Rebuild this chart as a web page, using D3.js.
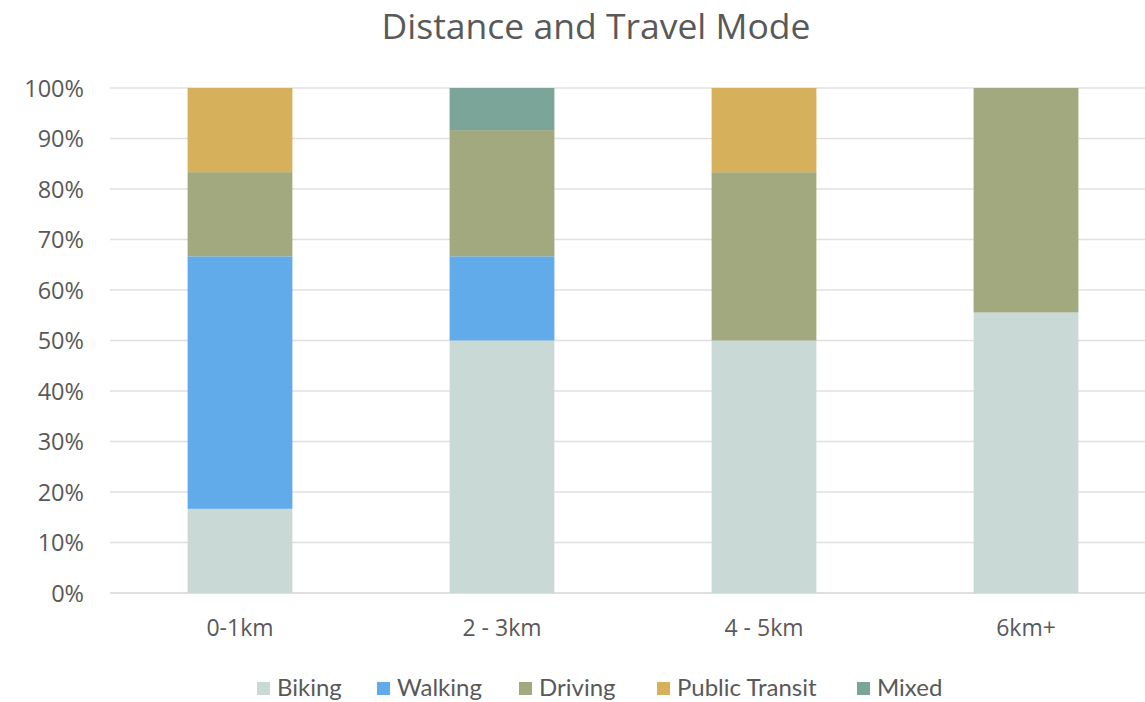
<!DOCTYPE html>
<html>
<head>
<meta charset="utf-8">
<script src="https://cdn.jsdelivr.net/npm/d3@7"></script>
<style>
  html, body { margin: 0; padding: 0; background: #fff; }
  svg { display: block; }
</style>
</head>
<body>
<svg id="chart" width="1145" height="702"></svg>
<script>
// Distance bands and share of trips by travel mode (percent)
const categories = ["0-1km", "2 - 3km", "4 - 5km", "6km+"];
const modes = ["Biking", "Walking", "Driving", "Public Transit", "Mixed"];
const biking = [16.67, 50, 50, 55.56];
const walking = [50, 16.67, 0, 0];
const driving = [16.67, 25, 33.33, 44.44];
const publicTransit = [16.66, 0, 16.67, 0];
const mixed = [0, 8.33, 0, 0];
const yTicks = [0, 10, 20, 30, 40, 50, 60, 70, 80, 90, 100];
const colors = ["#c9dad6", "#62abeb", "#a2a97f", "#d7b05c", "#7aa598"];

const seriesValues = [biking, walking, driving, publicTransit, mixed];
const rows = categories.map((c, i) => {
  const r = { category: c };
  modes.forEach((m, j) => { r[m] = seriesValues[j][i]; });
  return r;
});

const svg = d3.select("#chart");
const font = "'Open Sans', 'Liberation Sans', sans-serif";

const x = d3.scaleBand().domain(categories).range([109, 1157]).paddingInner(0.6).paddingOuter(0.3);
const y = d3.scaleLinear().domain([0, 100]).range([593, 88]);
const color = d3.scaleOrdinal().domain(modes).range(colors);

// Title
svg.append("text")
  .attr("x", 596).attr("y", 39)
  .attr("text-anchor", "middle")
  .attr("font-family", font)
  .attr("font-size", 35.5)
  .attr("fill", "#595959")
  .text("Distance and Travel Mode");

// Gridlines
svg.append("g")
  .selectAll("line")
  .data(yTicks)
  .join("line")
  .attr("x1", 110).attr("x2", 1145)
  .attr("y1", d => y(d)).attr("y2", d => y(d))
  .attr("stroke", d => d === 0 ? "#d4d4d4" : "#e0e0e0")
  .attr("stroke-width", 1.5);

// Y axis labels
const yAxis = d3.axisLeft(y).tickValues(yTicks).tickFormat(d => d + "%").tickSize(0).tickPadding(0);
const gy = svg.append("g").attr("transform", "translate(84,0)").call(yAxis);
gy.select(".domain").remove();
gy.selectAll("text")
  .attr("font-family", font)
  .attr("font-size", 23.5)
  .attr("fill", "#595959")
  .attr("dy", "0.36em");

// Stacked bars
const stack = d3.stack().keys(modes);
const layers = stack(rows);
svg.append("g")
  .selectAll("g")
  .data(layers)
  .join("g")
  .attr("fill", d => color(d.key))
  .selectAll("rect")
  .data(d => d.filter(s => s[1] - s[0] > 0))
  .join("rect")
  .attr("x", d => x(d.data.category))
  .attr("width", x.bandwidth())
  .attr("y", d => y(d[1]))
  .attr("height", d => y(d[0]) - y(d[1]));

// X axis labels
const xAxis = d3.axisBottom(x).tickSize(0).tickPadding(0);
const gx = svg.append("g").attr("transform", "translate(0,636)").call(xAxis);
gx.select(".domain").remove();
gx.selectAll("text")
  .attr("font-family", font)
  .attr("font-size", 23)
  .attr("fill", "#595959")
  .attr("y", 0)
  .attr("dy", 0);

// Legend
const legendX = [257, 377, 519, 657, 857];
const legend = svg.append("g").selectAll("g")
  .data(modes)
  .join("g")
  .attr("transform", (d, i) => `translate(${legendX[i]},696)`);
legend.append("rect")
  .attr("x", 0).attr("y", -14)
  .attr("width", 13).attr("height", 13)
  .attr("fill", d => color(d));
legend.append("text")
  .attr("x", 20).attr("y", 0)
  .attr("font-family", "Lato, 'Open Sans', sans-serif")
  .attr("font-size", 24)
  .attr("fill", "#595959")
  .text(d => d);
</script>
</body>
</html>
